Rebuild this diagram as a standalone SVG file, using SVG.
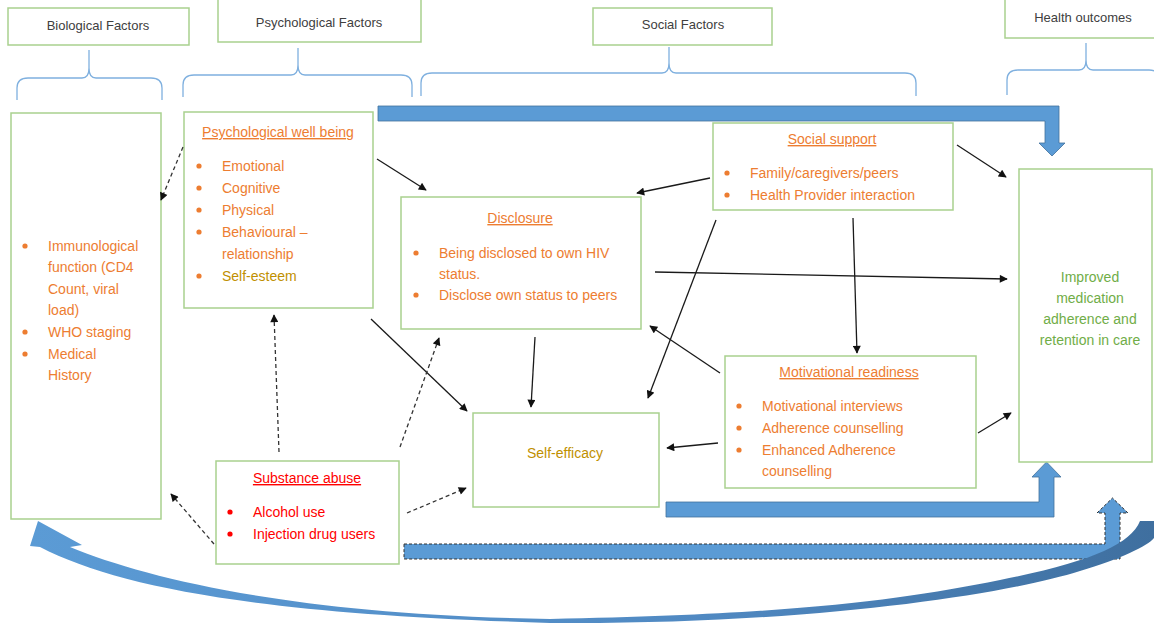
<svg xmlns="http://www.w3.org/2000/svg" width="1154" height="624" viewBox="0 0 1154 624">
<style>
.box{fill:#fff;stroke:#a9d18e;stroke-width:1.5}
.hdr{font-family:"Liberation Sans",Arial,sans-serif;font-size:13px;fill:#404040;text-anchor:middle}
.t{font-family:"Liberation Sans",Arial,sans-serif;font-size:14px;fill:#ed7d31}
.ttl{text-anchor:middle;text-decoration:underline}
.gold{fill:#bf9000}
.grn{fill:#70ad47;text-anchor:middle}
.red{fill:#ff0000}
.bul{fill:#ed7d31}
.bulr{fill:#ff0000}
.brace{fill:none;stroke:#7fb0df;stroke-width:1.3}
.c{fill:none;stroke:#1a1a1a;stroke-width:1.3;marker-end:url(#ah)}
.d{fill:none;stroke:#333;stroke-width:1.3;stroke-dasharray:4,3;marker-end:url(#ah)}
.blue{fill:#5b9bd5;stroke:#41719c;stroke-width:0.8}
</style>
<defs>
<marker id="ah" viewBox="0 0 10 10" refX="9" refY="5" markerWidth="9" markerHeight="8" markerUnits="userSpaceOnUse" orient="auto">
<path d="M0,0 L10,5 L0,10 Z" fill="#111"/>
</marker>
<linearGradient id="cg" x1="0" y1="0" x2="1" y2="0">
<stop offset="0" stop-color="#5b9bd5"/>
<stop offset="0.6" stop-color="#5089c2"/>
<stop offset="1" stop-color="#3f6f9f"/>
</linearGradient>
</defs>
<rect width="1154" height="624" fill="#fff"/>

<g id="headers">
<g id="h-bio"><rect class="box" x="8" y="8" width="181" height="37"/><text class="hdr" x="98" y="30">Biological Factors</text></g>
<g id="h-psy"><rect class="box" x="218" y="-2" width="203" height="44"/><text class="hdr" x="319" y="27">Psychological Factors</text></g>
<g id="h-soc"><rect class="box" x="593" y="8" width="179" height="37"/><text class="hdr" x="683" y="29">Social Factors</text></g>
<g id="h-health"><rect class="box" x="1005" y="-2" width="160" height="40"/><text class="hdr" x="1083" y="22">Health outcomes</text></g>
</g>

<g id="braces">
<path class="brace" d="M17,100 L17,88 Q17,78 28,78 L82,78 Q89,78 89,68 L89,50 L89,68 Q89,78 96,78 L151,78 Q162,78 162,88 L162,100"/>
<path class="brace" d="M183,97 L183,85 Q183,75 194,75 L291,75 Q298,75 298,65 L298,48 L298,65 Q298,75 305,75 L401,75 Q412,75 412,85 L412,97"/>
<path class="brace" d="M421,96 L421,83 Q421,73 432,73 L662,73 Q669,73 669,63 L669,47 L669,63 Q669,73 676,73 L905,73 Q916,73 916,83 L916,96"/>
<path class="brace" d="M1007,95 L1007,80 Q1007,70 1018,70 L1079,70 Q1086,70 1086,60 L1086,43 L1086,60 Q1086,70 1093,70 L1149,70 Q1160,70 1160,80 L1160,95"/>
</g>

<g id="blue-arrows">
<polygon class="blue" points="378,106 1059,106 1059,143 1065,143 1052,156 1039,143 1045,143 1045,121 378,121"/>
<polygon class="blue" points="666,502 1039,502 1039,477 1032,477 1046.5,462 1061,477 1054,477 1054,517 666,517"/>
<polygon fill="#5b9bd5" stroke="#333" stroke-width="1" stroke-dasharray="3,2" points="404,544 1105,544 1105,513 1097,513 1112.5,498 1128,513 1120,513 1120,559 404,559"/>
<path fill="url(#cg)" d="M40,547 C120,588 260,614 550,623 C800,625 1000,596 1080,571 C1120,559 1148,546 1154,538 L1154,521 L1140,521 C1130,545 1090,562 1000,580 C900,600 800,614 550,619 C300,615 150,580 70,547 L82,545 L38,521 L30,546 Z"/>
</g>

<g id="node-bio">
<rect class="box" x="11" y="113" width="150" height="406"/>
<circle class="bul" cx="25" cy="246" r="2.6"/><circle class="bul" cx="25" cy="332" r="2.6"/><circle class="bul" cx="25" cy="354" r="2.6"/>
<text class="t" x="48" y="251">Immunological</text>
<text class="t" x="48" y="272">function (CD4</text>
<text class="t" x="48" y="294">Count, viral</text>
<text class="t" x="48" y="315">load)</text>
<text class="t" x="48" y="337">WHO staging</text>
<text class="t" x="48" y="359">Medical</text>
<text class="t" x="48" y="380">History</text>
</g>

<g id="node-psy">
<rect class="box" x="184" y="112" width="189" height="196"/>
<text class="t ttl" x="278" y="137">Psychological well being</text>
<circle class="bul" cx="199" cy="166" r="2.6"/><circle class="bul" cx="199" cy="188" r="2.6"/><circle class="bul" cx="199" cy="210" r="2.6"/><circle class="bul" cx="199" cy="232" r="2.6"/><circle class="bul" cx="199" cy="276" r="2.6"/>
<text class="t" x="222" y="171">Emotional</text>
<text class="t" x="222" y="193">Cognitive</text>
<text class="t" x="222" y="215">Physical</text>
<text class="t" x="222" y="237">Behavioural –</text>
<text class="t" x="222" y="259">relationship</text>
<text class="t gold" x="222" y="281">Self-esteem</text>
</g>

<g id="node-disclosure">
<rect class="box" x="401" y="197" width="240" height="132"/>
<text class="t ttl" x="520" y="223">Disclosure</text>
<circle class="bul" cx="416" cy="253" r="2.6"/><circle class="bul" cx="416" cy="295" r="2.6"/>
<text class="t" x="439" y="258">Being disclosed to own HIV</text>
<text class="t" x="439" y="279">status.</text>
<text class="t" x="439" y="300">Disclose own status to peers</text>
</g>

<g id="node-social">
<rect class="box" x="713" y="123" width="240" height="87"/>
<text class="t ttl" x="832" y="144">Social support</text>
<circle class="bul" cx="727" cy="173" r="2.6"/><circle class="bul" cx="727" cy="195" r="2.6"/>
<text class="t" x="750" y="178">Family/caregivers/peers</text>
<text class="t" x="750" y="200">Health Provider interaction</text>
</g>

<g id="node-outcome">
<rect class="box" x="1019" y="169" width="133" height="293"/>
<text class="t grn" x="1090" y="282">Improved</text>
<text class="t grn" x="1090" y="303">medication</text>
<text class="t grn" x="1090" y="324">adherence and</text>
<text class="t grn" x="1090" y="345">retention in care</text>
</g>

<g id="node-motivation">
<rect class="box" x="725" y="356" width="251" height="132"/>
<text class="t ttl" x="849" y="377">Motivational readiness</text>
<circle class="bul" cx="739" cy="406" r="2.6"/><circle class="bul" cx="739" cy="428" r="2.6"/><circle class="bul" cx="739" cy="450" r="2.6"/>
<text class="t" x="762" y="411">Motivational interviews</text>
<text class="t" x="762" y="433">Adherence counselling</text>
<text class="t" x="762" y="455">Enhanced Adherence</text>
<text class="t" x="762" y="476">counselling</text>
</g>

<g id="node-selfefficacy">
<rect class="box" x="473" y="413" width="186" height="94"/>
<text class="t gold" x="565" y="458" text-anchor="middle">Self-efficacy</text>
</g>

<g id="node-substance">
<rect class="box" x="216" y="461" width="183" height="103"/>
<text class="t ttl red" x="307" y="483">Substance abuse</text>
<circle class="bulr" cx="230" cy="512" r="2.6"/><circle class="bulr" cx="230" cy="534" r="2.6"/>
<text class="t red" x="253" y="517">Alcohol use</text>
<text class="t red" x="253" y="539">Injection drug users</text>
</g>

<g id="connectors">
<line class="d" x1="183" y1="147" x2="161" y2="200"/>
<line class="c" x1="377" y1="159" x2="426" y2="190"/>
<line class="c" x1="371" y1="319" x2="467" y2="411"/>
<line class="c" x1="710" y1="178" x2="637" y2="193"/>
<line class="c" x1="957" y1="145" x2="1006" y2="177"/>
<line class="c" x1="716" y1="220" x2="648" y2="398"/>
<line class="c" x1="853" y1="218" x2="857" y2="353"/>
<line class="c" x1="655" y1="272" x2="1007" y2="279"/>
<line class="c" x1="535" y1="337" x2="531" y2="407"/>
<line class="c" x1="720" y1="373" x2="650" y2="326"/>
<line class="c" x1="718" y1="443" x2="667" y2="448"/>
<line class="c" x1="978" y1="433" x2="1011" y2="413"/>
<line class="d" x1="279" y1="452" x2="274" y2="315"/>
<line class="d" x1="400" y1="447" x2="439" y2="338"/>
<line class="d" x1="407" y1="513" x2="466" y2="488"/>
<line class="d" x1="214" y1="544" x2="171" y2="494"/>
</g>
</svg>
